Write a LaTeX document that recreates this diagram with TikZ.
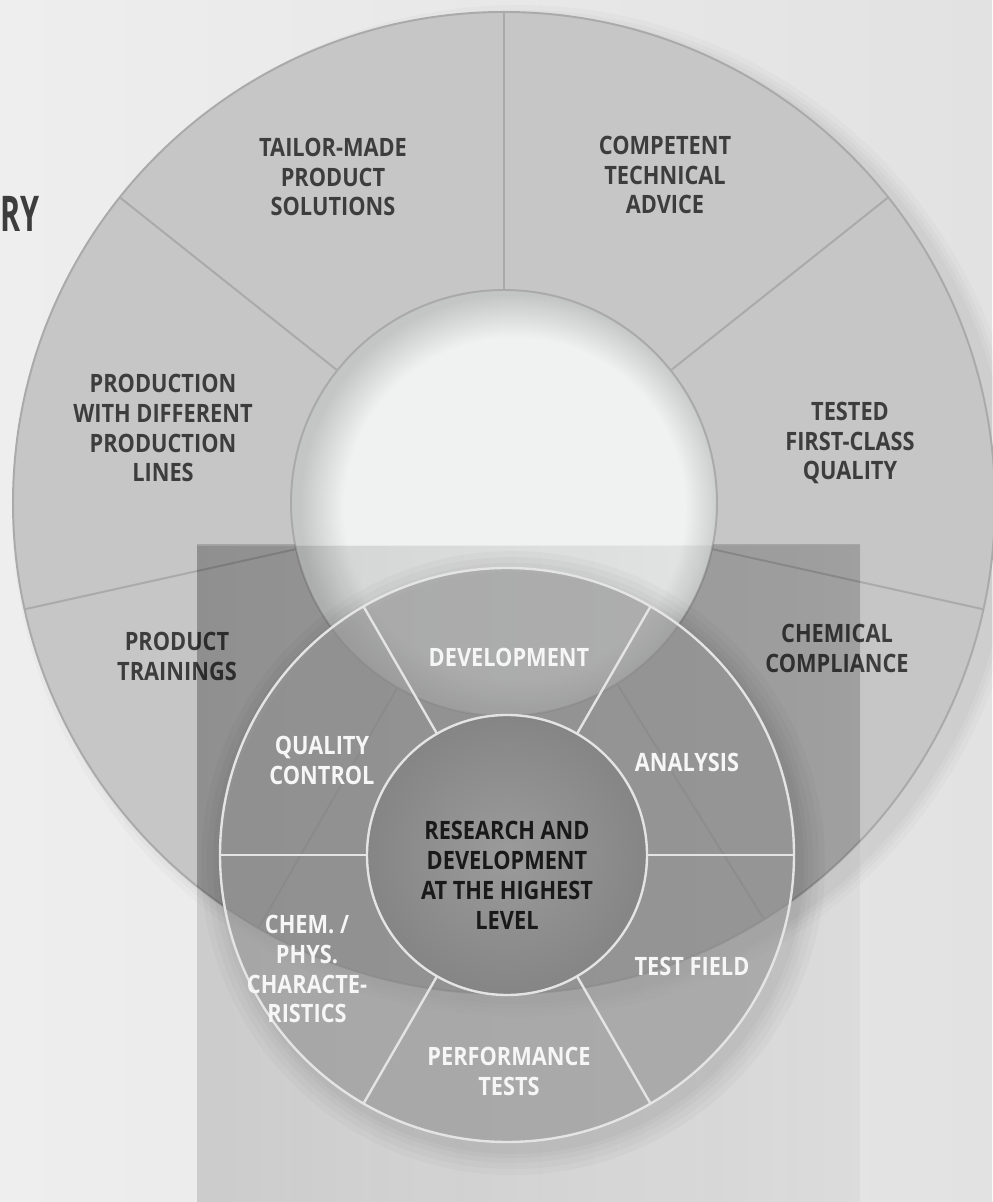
\documentclass[tikz,border=0pt]{standalone}
\usepackage{graphicx}
\usepackage{fontspec}
\setmainfont{Open Sans}[FakeStretch=0.86]
\usetikzlibrary{calc,fadings}

\definecolor{bgleft}{HTML}{EEEEEE}
\definecolor{bgmid}{HTML}{F2F2F2}
\definecolor{bgright}{HTML}{E2E2E2}
\definecolor{ringgray}{HTML}{C6C6C6}
\definecolor{ringedge}{HTML}{AAAAAA}
\definecolor{holelight}{HTML}{F0F1F1}
\definecolor{holedark}{HTML}{C4C5C5}
\definecolor{labelgray}{HTML}{3D3D3D}
\definecolor{whiteline}{HTML}{E4E4E4}
\definecolor{labelwhite}{HTML}{F6F6F6}
\definecolor{coreinner}{HTML}{9B9B9B}
\definecolor{coreouter}{HTML}{858585}

\pgfdeclareradialshading{holeshade}{\pgfpoint{2bp}{-1bp}}{color(0bp)=(holelight); color(20bp)=(holelight); color(25bp)=(holedark); color(50bp)=(holedark)}

\begin{document}
\begin{tikzpicture}[x=0.025cm,y=0.025cm,
  biglabel/.style={text=labelgray,font=\bfseries\fontsize{18}{21.3}\selectfont,align=center,inner sep=0pt},
  smalllabel/.style={biglabel,text=labelwhite},
  bigline/.style={draw=ringedge,line width=1.4pt},
  smallline/.style={draw=whiteline,line width=1.7pt}]

\useasboundingbox (0,0) rectangle (992,1202);
\shade[left color=bgleft,middle color=bgmid,right color=bgright] (0,0) rectangle (992,1202);

\coordinate (bigc) at (504,699);
\coordinate (smallc) at (507,347);

% shadow of the big ring
\fill[black,opacity=0.018] ($(bigc)+(14,-8)$) circle[radius=506];
\fill[black,opacity=0.018] ($(bigc)+(14,-8)$) circle[radius=501];
\fill[black,opacity=0.018] ($(bigc)+(14,-8)$) circle[radius=497];
\fill[black,opacity=0.018] ($(bigc)+(14,-8)$) circle[radius=493];

% big ring
\fill[ringgray] (bigc) circle[radius=491];
\shade[shading=holeshade] (bigc) circle[radius=213];
\draw[bigline] (bigc) circle[radius=491];
\draw[bigline] (bigc) circle[radius=213];
\draw[bigline] ($(bigc)+(90:213)$) -- ($(bigc)+(90:491)$);
\draw[bigline] ($(bigc)+(38.5:213)$) -- ($(bigc)+(38.5:491)$);
\draw[bigline] ($(bigc)+(141.5:213)$) -- ($(bigc)+(141.5:491)$);
\draw[bigline] ($(bigc)+(-12.5:213)$) -- ($(bigc)+(-12.5:491)$);
\draw[bigline] ($(bigc)+(192.5:213)$) -- ($(bigc)+(192.5:491)$);
\draw[bigline] ($(bigc)+(-58:213)$) -- ($(bigc)+(-58:491)$);
\draw[bigline] ($(bigc)+(-120:213)$) -- ($(bigc)+(-120:491)$);

\node[biglabel] (tailor) at (333,1025) {TAILOR-MADE\\PRODUCT\\SOLUTIONS};
\node[biglabel] (advice) at (665,1027) {COMPETENT\\TECHNICAL\\ADVICE};
\node[biglabel] (lines) at (163,774) {PRODUCTION\\WITH DIFFERENT\\PRODUCTION\\LINES};
\node[biglabel] (tested) at (850,759) {TESTED\\FIRST-CLASS\\QUALITY};
\node[biglabel] (chemical) at (837,554) {CHEMICAL\\COMPLIANCE};
\node[biglabel] (trainings) at (177,546) {PRODUCT\\TRAININGS};

% grey panel
\fill[black,opacity=0.03] (197,0) rectangle (860,657);
\fill[black,opacity=0.10,path fading=east] (197,0) rectangle (860,657);
\begin{scope}
\clip (197,0) rectangle (860,657);
\fill[black,opacity=0.16,even odd rule] (bigc) circle[radius=491] (bigc) circle[radius=213];
\end{scope}

% shadow of the small ring
\fill[black,opacity=0.025] ($(smallc)+(6,-8)$) circle[radius=312];
\fill[black,opacity=0.025] ($(smallc)+(6,-8)$) circle[radius=306];
\fill[black,opacity=0.025] ($(smallc)+(6,-8)$) circle[radius=300];
\fill[black,opacity=0.025] ($(smallc)+(6,-8)$) circle[radius=295];
\fill[black,opacity=0.025] ($(smallc)+(6,-8)$) circle[radius=291];

% small ring
\fill[black!38,opacity=0.6] (smallc) circle[radius=287];
\shade[inner color=coreinner,outer color=coreouter] (smallc) circle[radius=140];
\draw[smallline] (smallc) circle[radius=287];
\draw[smallline] (smallc) circle[radius=140];
\draw[smallline] ($(smallc)+(0:140)$) -- ($(smallc)+(0:287)$);
\draw[smallline] ($(smallc)+(60:140)$) -- ($(smallc)+(60:287)$);
\draw[smallline] ($(smallc)+(120:140)$) -- ($(smallc)+(120:287)$);
\draw[smallline] ($(smallc)+(180:140)$) -- ($(smallc)+(180:287)$);
\draw[smallline] ($(smallc)+(240:140)$) -- ($(smallc)+(240:287)$);
\draw[smallline] ($(smallc)+(300:140)$) -- ($(smallc)+(300:287)$);

\node[smalllabel] (development) at (509,545) {DEVELOPMENT};
\node[smalllabel] (quality) at (322,442) {QUALITY\\CONTROL};
\node[smalllabel] (analysis) at (687,440) {ANALYSIS};
\node[smalllabel] (chemphys) at (307,233) {CHEM. /\\PHYS.\\CHARACTE-\\RISTICS};
\node[smalllabel] (testfield) at (692,236) {TEST FIELD};
\node[smalllabel] (performance) at (509,131) {PERFORMANCE\\TESTS};
\node[biglabel,text=black!90] (research) at (507,327) {RESEARCH AND\\DEVELOPMENT\\AT THE HIGHEST\\LEVEL};

\node[text=labelgray,font=\bfseries\fontsize{35}{40}\selectfont,anchor=base west,inner sep=0pt] (title) at (0,970) {\scalebox{0.72}[1]{RY}};

\end{tikzpicture}
\end{document}
